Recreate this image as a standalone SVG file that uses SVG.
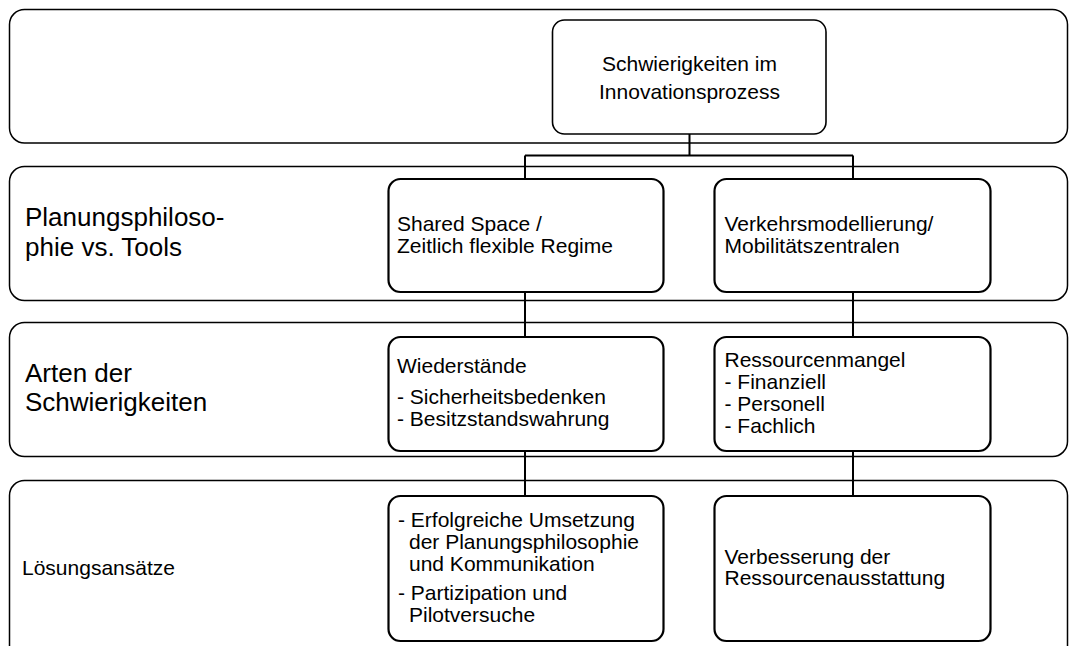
<svg xmlns="http://www.w3.org/2000/svg" width="1069" height="646" viewBox="0 0 1069 646">
<style>
.band{fill:#fff;stroke:#000;stroke-width:1.5}
.box{fill:#fff;stroke:#000;stroke-width:2.2}
.top{fill:#fff;stroke:#000;stroke-width:1.6}
.t{font-family:"Liberation Sans",Arial,sans-serif;font-size:21px;fill:#000}
.lbl{font-family:"Liberation Sans",Arial,sans-serif;font-size:26px;fill:#000}
.con{fill:none;stroke:#000;stroke-width:2}
</style>
<rect width="1069" height="646" fill="#fff"/>
<g id="band1"><rect class="band" x="9.5" y="9.5" width="1058" height="133.5" rx="15"/></g>
<g id="band2"><rect class="band" x="9.5" y="166.5" width="1058" height="134" rx="15"/>
<text class="lbl" x="25" y="226">Planungsphiloso-</text>
<text class="lbl" x="25" y="255.5">phie vs. Tools</text></g>
<g id="band3"><rect class="band" x="9.5" y="322.5" width="1058" height="134" rx="15"/>
<text class="lbl" x="25" y="381.5">Arten der</text>
<text class="lbl" x="25" y="411">Schwierigkeiten</text></g>
<g id="band4"><rect class="band" x="9.5" y="480.5" width="1058" height="220" rx="15"/>
<text class="t" x="22" y="574.5">Lösungsansätze</text></g>
<g id="connectors">
<path class="con" d="M689.5 134V155.5M525 155.5H853M525 155.5V179M853 155.5V179"/>
<path class="con" d="M525 292V337M853 292V337M525 451V496M853 451V496"/>
</g>
<g id="n-top"><rect class="top" x="552.5" y="20" width="273.5" height="114" rx="12"/>
<text class="t" x="689.5" y="70.7" text-anchor="middle">Schwierigkeiten im</text>
<text class="t" x="689.5" y="99.3" text-anchor="middle">Innovationsprozess</text></g>
<g id="n-shared"><rect class="box" x="388.5" y="179" width="275" height="113" rx="12"/>
<text class="t" x="397" y="231">Shared Space /</text>
<text class="t" x="397" y="252.5">Zeitlich flexible Regime</text></g>
<g id="n-verkehr"><rect class="box" x="714.5" y="179" width="276" height="113" rx="12"/>
<text class="t" x="724.5" y="231">Verkehrsmodellierung/</text>
<text class="t" x="724.5" y="252.5">Mobilitätszentralen</text></g>
<g id="n-wider"><rect class="box" x="388.5" y="337" width="275" height="114" rx="12"/>
<text class="t" x="397" y="373.3">Wiederstände</text>
<text class="t" x="397" y="404">- Sicherheitsbedenken</text>
<text class="t" x="397" y="426">- Besitzstandswahrung</text></g>
<g id="n-ress"><rect class="box" x="714.5" y="337" width="276" height="114" rx="12"/>
<text class="t" x="724.5" y="366.5">Ressourcenmangel</text>
<text class="t" x="724.5" y="388.5">- Finanziell</text>
<text class="t" x="724.5" y="411">- Personell</text>
<text class="t" x="724.5" y="433">- Fachlich</text></g>
<g id="n-loes1"><rect class="box" x="388.5" y="496" width="275" height="145" rx="12"/>
<text class="t" x="398" y="527.3">- Erfolgreiche Umsetzung</text>
<text class="t" x="409" y="549.3">der Planungsphilosophie</text>
<text class="t" x="409" y="570.5">und Kommunikation</text>
<text class="t" x="398" y="600">- Partizipation und</text>
<text class="t" x="409" y="621.7">Pilotversuche</text></g>
<g id="n-loes2"><rect class="box" x="714.5" y="496" width="276" height="145" rx="12"/>
<text class="t" x="724.5" y="563.5">Verbesserung der</text>
<text class="t" x="724.5" y="584.5">Ressourcenausstattung</text></g>
</svg>
